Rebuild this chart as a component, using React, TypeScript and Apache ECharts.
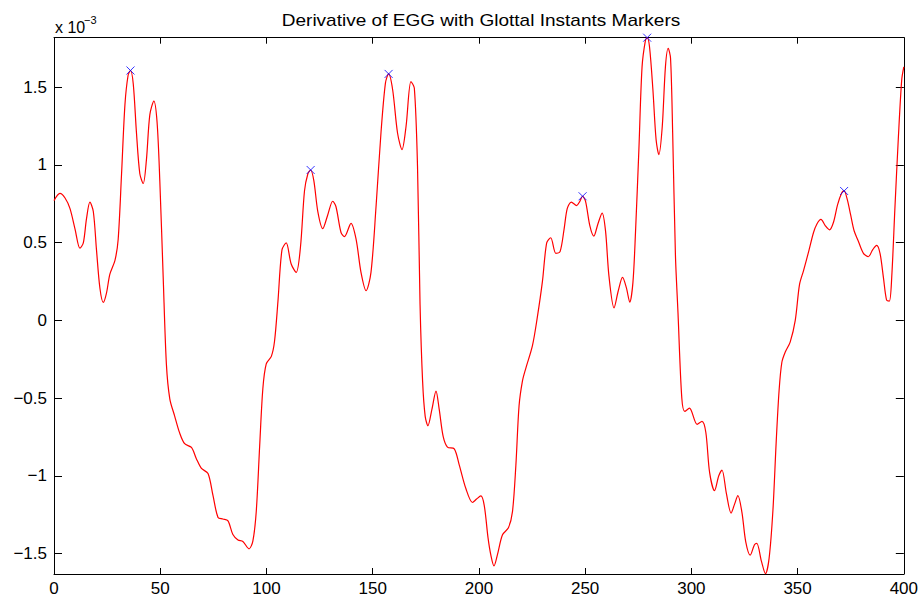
import React, { useEffect, useRef } from "react";
import * as echarts from "echarts";

// Sample index of the EGG derivative trace
const sampleIdx = [
  0, 2.8, 5.2, 7.5, 9.9, 12.2, 13.8, 15.3, 16.9, 18.5, 20.0, 21.6, 23.2, 24.7, 26.3, 28.7, 30.2, 31.8, 33.4, 34.9,
  36.0, 37.3, 38.8, 40.4, 42.0, 43.5, 45.1, 47.0, 48.5, 49.8, 51.4, 52.9, 54.5, 56.8, 59.2, 61.5, 64.7, 67.0, 69.4,
  72.5, 74.8, 77.2, 79.5, 81.9, 84.2, 86.6, 88.9, 91.8, 93.6, 95.2, 96.8, 98.3, 99.9, 102.3, 103.8, 105.4, 107.3,
  109.3, 111.6, 114.0, 116.0, 117.9, 119.5, 120.8, 122.3, 124.2, 126.5, 128.8, 131.2, 132.7, 135.1, 136.7, 139.8,
  142.2, 144.5, 146.9, 149.2, 151.6, 153.9, 156.0, 157.5, 159.4, 161.7, 163.8, 165.7, 168.0, 169.6, 171.1, 172.3,
  173.5, 174.7, 176.0, 177.9, 179.8, 181.3, 183.2, 185.2, 188.4, 190.7, 193.9, 197.0, 198.9, 200.9, 202.5, 204.3,
  205.6, 207.1, 208.7, 211.1, 213.9, 215.8, 217.4, 218.9, 220.5, 222.0, 225.2, 227.5, 229.9, 231.9, 233.8, 236.2,
  238.2, 240.1, 241.6, 243.5, 246.0, 247.5, 248.8, 250.2, 252.2, 254.1, 256.0, 258.0, 259.6, 261.2, 263.6, 265.6,
  267.6, 269.4, 271.0, 272.5, 273.7, 275.3, 276.8, 278.4, 279.2, 280.3, 281.9, 283.4, 284.7, 286.3, 287.8, 289.1,
  290.2, 291.2, 292.5, 293.7, 295.5, 296.9, 299.1, 302.7, 305.0, 306.8, 308.6, 310.9, 312.9, 314.4, 316.5, 318.7,
  320.3, 321.9, 323.8, 325.6, 327.7, 329.7, 330.8, 333.0, 334.9, 336.6, 338.4, 339.9, 341.3, 342.6, 344.2, 346.5,
  348.9, 350.9, 352.8, 355.2, 357.5, 359.1, 361.0, 363.0, 365.0, 366.9, 368.8, 370.8, 371.9, 373.4, 375.0, 376.6,
  378.6, 381.0, 383.3, 385.3, 387.2, 388.8, 390.4, 391.9, 393.2, 394.3, 395.8, 397.4, 399.0, 400,
];

// dEGG amplitude, in units of 1e-3
const dEgg = [
  0.77, 0.816, 0.787, 0.72, 0.587, 0.464, 0.498, 0.654, 0.76, 0.7, 0.453, 0.208, 0.115, 0.175, 0.297, 0.386, 0.52,
  0.943, 1.389, 1.578, 1.607, 1.522, 1.21, 0.943, 0.88, 1.032, 1.322, 1.41, 1.277, 0.9, 0.275, -0.282, -0.505,
  -0.616, -0.727, -0.794, -0.818, -0.89, -0.953, -0.985, -1.125, -1.268, -1.278, -1.29, -1.378, -1.413, -1.423,
  -1.47, -1.42, -1.23, -0.81, -0.44, -0.28, -0.232, -0.135, 0.12, 0.453, 0.498, 0.364, 0.308, 0.47, 0.832, 0.943,
  0.967, 0.899, 0.698, 0.59, 0.676, 0.766, 0.732, 0.565, 0.538, 0.624, 0.521, 0.308, 0.19, 0.308, 0.735, 1.205,
  1.526, 1.585, 1.483, 1.205, 1.098, 1.247, 1.536, 1.494, 0.991, 0.1, -0.393, -0.616, -0.678, -0.571, -0.455,
  -0.571, -0.749, -0.816, -0.827, -0.928, -1.084, -1.172, -1.15, -1.13, -1.19, -1.4, -1.509, -1.58, -1.509, -1.38,
  -1.335, -1.231, -0.932, -0.55, -0.39, -0.312, -0.163, 0.02, 0.25, 0.498, 0.531, 0.431, 0.442, 0.587, 0.72, 0.76,
  0.738, 0.765, 0.798, 0.765, 0.609, 0.542, 0.62, 0.69, 0.575, 0.286, 0.08, 0.19, 0.276, 0.21, 0.117, 0.244, 0.564,
  1.098, 1.632, 1.803, 1.818, 1.76, 1.483, 1.162, 1.066, 1.247, 1.632, 1.75, 1.686, 1.205, 0.42, 0.05, -0.5, -0.586,
  -0.565, -0.669, -0.65, -0.72, -0.98, -1.096, -1.0, -0.963, -1.115, -1.24, -1.184, -1.128, -1.235, -1.425, -1.511,
  -1.444, -1.435, -1.551, -1.63, -1.53, -1.22, -0.79, -0.45, -0.27, -0.204, -0.14, 0.0, 0.23, 0.32, 0.442, 0.565,
  0.62, 0.649, 0.609, 0.582, 0.631, 0.743, 0.821, 0.832, 0.776, 0.676, 0.576, 0.509, 0.431, 0.409, 0.453, 0.482,
  0.431, 0.275, 0.13, 0.124, 0.275, 0.72, 1.166, 1.545, 1.63,
];

// Detected glottal closure instants (sample index, dEGG value ×1e-3)
const instantIdx = [36.0, 120.8, 157.5, 248.8, 279.2, 371.9];
const instantVal = [1.607, 0.967, 1.585, 0.798, 1.818, 0.832];

// Axis ranges
const xMin = 0;
const xMax = 400;
const xStep = 50;
const yMin = -1.632;
const yMax = 1.818;

const TITLE = "Derivative of EGG with Glottal Instants Markers";
const FONT = '"Liberation Sans", Arial, Helvetica, sans-serif';

const fmtY = (v: number) => {
  const r = Math.round(v * 100) / 100;
  if (r === 0) return "0";
  return (r < 0 ? "\u2212" : "") + String(Math.abs(r));
};

export default function App() {
  const ref = useRef<HTMLDivElement>(null);

  useEffect(() => {
    if (!ref.current) return;
    const chart = echarts.init(ref.current, null, { renderer: "svg" });

    const trace = sampleIdx.map((x, i) => [x, dEgg[i]]);
    const marks = instantIdx.map((x, i) => [x, instantVal[i]]);

    const axisLine = { show: true, onZero: false, lineStyle: { color: "#000", width: 1 } };
    const labelStyle = { color: "#000", fontSize: 17, fontFamily: FONT };
    const xTick = { show: true, inside: true, length: 6, lineStyle: { color: "#000", width: 1 } };
    const yTick = { show: true, inside: true, length: 8, lineStyle: { color: "#000", width: 1 } };

    chart.setOption({
      animation: false,
      backgroundColor: "#fff",
      grid: { left: 54, right: 15.5, top: 37.7, bottom: 21.3, containLabel: false },
      xAxis: [
        {
          type: "value",
          position: "bottom",
          min: xMin,
          max: xMax,
          interval: xStep,
          axisLine,
          axisTick: xTick,
          axisLabel: { ...labelStyle, margin: 6 },
          splitLine: { show: false },
        },
        {
          type: "value",
          position: "top",
          min: xMin,
          max: xMax,
          interval: xStep,
          axisLine,
          axisTick: xTick,
          axisLabel: { show: false },
          splitLine: { show: false },
        },
      ],
      yAxis: [
        {
          type: "value",
          position: "left",
          min: yMin,
          max: yMax,
          splitNumber: 7,
          axisLine,
          axisTick: yTick,
          axisLabel: { ...labelStyle, margin: 7, showMinLabel: false, showMaxLabel: false, formatter: fmtY },
          splitLine: { show: false },
        },
        {
          type: "value",
          position: "right",
          min: yMin,
          max: yMax,
          splitNumber: 7,
          axisLine,
          axisTick: yTick,
          axisLabel: { show: false },
          splitLine: { show: false },
        },
      ],
      series: [
        {
          type: "line",
          xAxisIndex: 0,
          yAxisIndex: 0,
          data: trace,
          showSymbol: false,
          smooth: 0.3,
          lineStyle: { color: "#ff0000", width: 1.2 },
          z: 2,
        },
        {
          type: "scatter",
          xAxisIndex: 0,
          yAxisIndex: 0,
          data: marks,
          symbol: "path://M0 0L10 10M10 0L0 10",
          symbolSize: 8,
          itemStyle: { color: "none", borderColor: "#0000ff", borderWidth: 1 },
          z: 3,
        },
      ],
      graphic: [
        {
          type: "text",
          x: 481,
          y: 20.5,
          scaleX: 1.12,
          style: {
            text: TITLE,
            fontSize: 17,
            fontFamily: FONT,
            fill: "#000",
            align: "center",
            verticalAlign: "middle",
          },
        },
        {
          type: "text",
          left: 55,
          top: 19,
          style: { text: "x 10", fontSize: 16, fontFamily: FONT, fill: "#000" },
        },
        {
          type: "text",
          left: 84,
          top: 14,
          style: { text: "\u22123", fontSize: 11, fontFamily: FONT, fill: "#000" },
        },
      ],
    });

    return () => chart.dispose();
  }, []);

  return (
    <div
      ref={ref}
      style={{ position: "fixed", left: 0, top: 0, width: 921, height: 597, background: "#fff" }}
    />
  );
}
